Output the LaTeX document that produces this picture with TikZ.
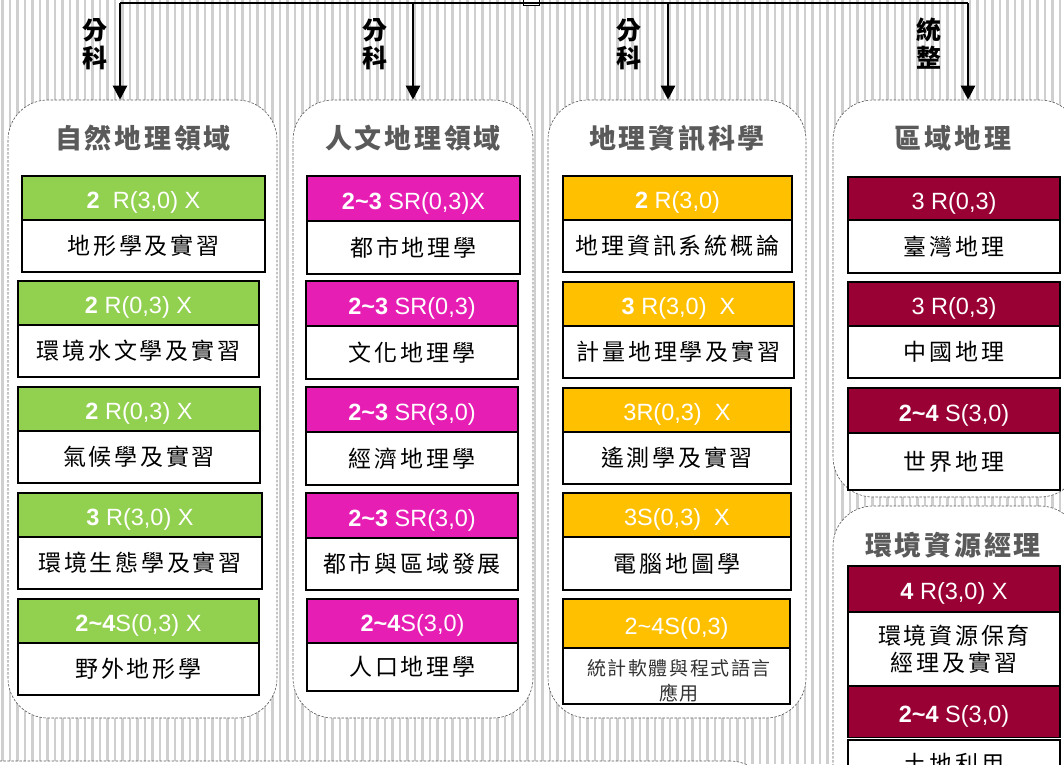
\documentclass[tikz,border=0pt]{standalone}
\usepackage{fontspec}
\setmainfont{Liberation Sans}
\newfontfamily\cjk[LetterSpace=12]{Noto Sans CJK TC}
\newfontfamily\cjkt[LetterSpace=10]{Noto Sans CJK TC}
\newfontfamily\cjks[LetterSpace=8]{Noto Sans CJK TC}
\usetikzlibrary{arrows.meta}
\definecolor{cgreen}{HTML}{92D050}
\definecolor{cmag}{HTML}{E61EB4}
\definecolor{cyel}{HTML}{FFC000}
\definecolor{cred}{HTML}{990033}
\definecolor{stripe}{HTML}{CFCFCF}
\definecolor{ttlgray}{HTML}{5A5A5A}
\newcommand\mkcard[9]{%
\node[hdr, fill=#7, minimum width={#3-#2}, minimum height={#5-#4}] (#1h) at ({(#2+#3)/2},{(#4+#5)/2}) {#8};
\node[bdy, minimum width={#3-#2}, minimum height={#6-#5}] (#1b) at ({(#2+#3)/2},{(#5+#6)/2}) {#9};}
\begin{document}
\begin{tikzpicture}[x=1pt,y=-1pt,
 panel/.style={draw=black!65, dash pattern=on 2.5pt off 1.5pt, line width=0.6pt, fill=white, rounded corners=40pt, inner sep=0pt},
 hdr/.style={draw=black, line width=1.2pt, text=white, inner sep=0pt, text height=22pt, text depth=1pt, font=\fontsize{23.5}{26}\selectfont},
 bdy/.style={draw=black, line width=1.2pt, fill=white, inner sep=0pt, font=\cjk\fontsize{23}{27}\selectfont, align=center},
 ttl/.style={text=ttlgray, font=\cjkt\bfseries\fontsize{27}{30}\selectfont},
 lbl/.style={font=\cjk\bfseries\fontsize{25}{28}\selectfont, align=center, inner sep=0pt},
 small/.style={font=\cjks\fontsize{19}{25}\selectfont, text=black!80, align=center, inner sep=0pt},
 arr/.style={line width=2.5pt, -{Triangle[width=14pt,length=14pt]}},
]
\useasboundingbox (0,0) rectangle (1064,764);
\clip (0,0) rectangle (1064,764);
\fill[white] (0,0) rectangle (1064,764);
\foreach \i in {0,...,142} {\fill[stripe] ({\i*7.5+1},0) rectangle ++(2.5,764);}
% top node and connectors
\node[draw=black, fill=white, line width=1pt, minimum width=16, minimum height=20, inner sep=0pt] (top) at (531,-5) {};
\coordinate (j1) at (120,3);
\coordinate (j2) at (413,3);
\coordinate (j3) at (668,3);
\coordinate (j4) at (968,3);
% panels
\node[panel, minimum width=269, minimum height=618] (p1) at (142.5,409) {};
\node[panel, minimum width=240, minimum height=618] (p2) at (413,409) {};
\node[panel, minimum width=258, minimum height=618] (p3) at (677,409) {};
\node[panel, minimum width=247, minimum height=397] (p4) at (956.5,298.5) {};
\node[panel, minimum width=247, minimum height=444] (p5) at (956.5,728) {};
\node[panel, minimum width=810, minimum height=239] (p6) at (365,880.5) {};
\draw[line width=2.5pt] (j1) -- (j4);
\draw[arr] (j1) -- (j1 |- p1.north);
\draw[arr] (j2) -- (j2 |- p2.north);
\draw[arr] (j3) -- (j3 |- p3.north);
\draw[arr] (j4) -- (j4 |- p4.north);
\node[lbl] (l1) at (95,44) {分\\科};
\node[lbl] (l2) at (375,44) {分\\科};
\node[lbl] (l3) at (629,44) {分\\科};
\node[lbl] (l4) at (929,44) {統\\整};
% titles
\node[ttl] (t1) at (143,138) {自然地理領域};
\node[ttl] (t2) at (413,138) {人文地理領域};
\node[ttl] (t3) at (677,138) {地理資訊科學};
\node[ttl] (t4) at (953,138) {區域地理};
\node[ttl] (t5) at (953,545) {環境資源經理};
% panel 1
\mkcard{c11}{22}{265}{176}{220}{272}{cgreen}{\textbf{2}\ \ R(3,0) X}{地形學及實習}
\mkcard{c12}{18}{259}{281}{325}{377}{cgreen}{\textbf{2} R(0,3) X}{環境水文學及實習}
\mkcard{c13}{18}{260}{387}{431}{483}{cgreen}{\textbf{2} R(0,3) X}{氣候學及實習}
\mkcard{c14}{18}{262}{493}{537}{589}{cgreen}{\textbf{3} R(3,0) X}{環境生態學及實習}
\mkcard{c15}{18}{259}{599}{643}{695}{cgreen}{\textbf{2\textasciitilde 4}S(0,3) X}{野外地形學}
% panel 2
\mkcard{c21}{307}{520}{176}{221}{274}{cmag}{\textbf{2\textasciitilde 3} SR(0,3)X}{都市地理學}
\mkcard{c22}{306}{518}{281}{326}{379}{cmag}{\textbf{2\textasciitilde 3} SR(0,3)}{文化地理學}
\mkcard{c23}{306}{518}{387}{432}{485}{cmag}{\textbf{2\textasciitilde 3} SR(3,0)}{經濟地理學}
\mkcard{c24}{306}{518}{493}{538}{590}{cmag}{\textbf{2\textasciitilde 3} SR(3,0)}{都市與區域發展}
\mkcard{c25}{307}{518}{599}{643}{691}{cmag}{\textbf{2\textasciitilde 4}S(3,0)}{人口地理學}
% panel 3
\mkcard{c31}{563}{792}{176}{220}{272}{cyel}{\textbf{2} R(3,0)}{地理資訊系統概論}
\mkcard{c32}{563}{794}{282}{326}{378}{cyel}{\textbf{3} R(3,0)\ \ X}{計量地理學及實習}
\mkcard{c33}{563}{791}{388}{432}{484}{cyel}{3R(0,3)\ \ X}{遙測學及實習}
\mkcard{c34}{563}{791}{493}{537}{590}{cyel}{3S(0,3)\ \ X}{電腦地圖學}
\mkcard{c35}{563}{790}{599}{648}{704}{cyel}{2\textasciitilde 4S(0,3)}{}
\node[small] (c35t) at (679,681) {統計軟體與程式語言\\應用};
% panel 4
\mkcard{c41}{848}{1060}{177}{220}{273}{cred}{3 R(0,3)}{臺灣地理}
\mkcard{c42}{848}{1060}{282}{326}{378}{cred}{3 R(0,3)}{中國地理}
\mkcard{c43}{848}{1060}{388}{433}{490}{cred}{\textbf{2\textasciitilde 4} S(3,0)}{世界地理}
% panel 5
\mkcard{c51}{848}{1060}{566}{612}{686}{cred}{\textbf{4} R(3,0) X}{環境資源保育\\經理及實習}
\node[hdr, fill=cred, minimum width=212, minimum height=51] (c52h) at (954,712) {\textbf{2\textasciitilde 4} S(3,0)};
\node[bdy, minimum width=212, minimum height=48] (c52b) at (954,764) {土地利用};
\end{tikzpicture}
\end{document}
